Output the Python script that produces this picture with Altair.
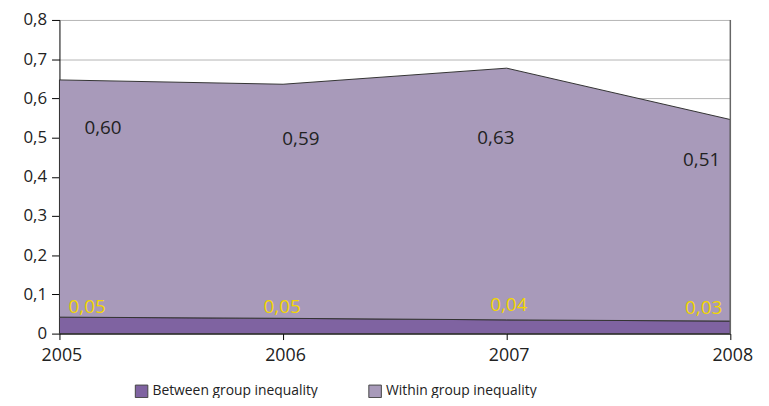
import altair as alt
import pandas as pd

# ---- data ----
years = [2005, 2006, 2007, 2008]
between = [0.042, 0.039, 0.035, 0.032]
within = [0.605, 0.597, 0.642, 0.514]
between_labels = ["0,05", "0,05", "0,04", "0,03"]
within_labels = ["0,60", "0,59", "0,63", "0,51"]
series_names = ["Between group inequality", "Within group inequality"]
y_ticks = [0, 0.1, 0.2, 0.3, 0.4, 0.5, 0.6, 0.7, 0.8]

# ---- layout / style ----
FONT = "Open Sans"
colors = ["#7f63a1", "#a89aba"]
# label offsets (pixels) from each label's data anchor
within_dx = [44, 18, -11, -29]
within_dy = [49, 55, 71, 41]
between_dx = [28, -1, 2, -27]
between_dy = [-10, -11, -15, -13]

rows = []
for i, yr in enumerate(years):
    rows.append({"year": yr, "series": series_names[0], "value": between[i], "ord": 0})
    rows.append({"year": yr, "series": series_names[1], "value": within[i], "ord": 1})
df = pd.DataFrame(rows)

x_scale = alt.Scale(domain=[years[0], years[-1]], nice=False, zero=False)
y_scale = alt.Scale(domain=[0, 0.8], nice=False)

x_axis = alt.Axis(values=years, format="d", title=None, grid=False,
                  domainColor="#000000", tickColor="#000000", tickSize=6,
                  labelFont=FONT, labelFontSize=18, labelColor="#222222",
                  labelPadding=7, labelOffset=2, labelFlush=False,
                  labelOverlap=False)
y_axis = alt.Axis(values=y_ticks, title=None, grid=True, gridColor="#b4b4b4",
                  gridWidth=1, domainColor="#000000", tickColor="#000000",
                  tickSize=8, labelPadding=5, labelFont=FONT, labelFontSize=17,
                  labelColor="#222222", labelOverlap=False,
                  labelExpr="datum.value == 0 ? '0' : replace(format(datum.value, '.1f'), '.', ',')")

area = alt.Chart(df).mark_area(stroke="#333333", strokeWidth=1, opacity=1).encode(
    x=alt.X("year:Q", scale=x_scale, axis=x_axis),
    y=alt.Y("value:Q", stack="zero", scale=y_scale, axis=y_axis),
    color=alt.Color("series:N",
                    scale=alt.Scale(domain=series_names, range=colors),
                    legend=alt.Legend(title=None, orient="none", legendX=76, legendY=368,
                                      direction="horizontal", columns=2, columnPadding=48,
                                      symbolType="square", symbolSize=160,
                                      symbolStrokeColor="#444444", symbolStrokeWidth=1,
                                      labelFont=FONT, labelFontSize=14, labelLimit=400,
                                      labelColor="#222222", symbolOpacity=1)),
    order=alt.Order("ord:Q"),
)

border = alt.Chart(pd.DataFrame({"x": [years[-1]], "y0": [0.0], "y1": [0.8]})).mark_rule(
    color="#666666", strokeWidth=1.5).encode(
    x=alt.X("x:Q", scale=x_scale, axis=x_axis),
    y=alt.Y("y0:Q", scale=y_scale, axis=y_axis), y2="y1:Q",
)

layers = [area, border]
for i, yr in enumerate(years):
    top = between[i] + within[i]
    d1 = pd.DataFrame({"year": [yr], "v": [top], "t": [within_labels[i]]})
    layers.append(alt.Chart(d1).mark_text(
        font=FONT, fontSize=19, color="#222222", align="center", baseline="middle",
        dx=within_dx[i], dy=within_dy[i]).encode(
        x=alt.X("year:Q", scale=x_scale, axis=x_axis),
        y=alt.Y("v:Q", scale=y_scale, axis=y_axis), text="t:N"))
    d2 = pd.DataFrame({"year": [yr], "v": [between[i]], "t": [between_labels[i]]})
    layers.append(alt.Chart(d2).mark_text(
        font=FONT, fontSize=19, color="#f2d600", align="center", baseline="middle",
        dx=between_dx[i], dy=between_dy[i]).encode(
        x=alt.X("year:Q", scale=x_scale, axis=x_axis),
        y=alt.Y("v:Q", scale=y_scale, axis=y_axis), text="t:N"))

chart = alt.layer(*layers).properties(
    width=678, height=317,
    autosize=alt.AutoSizeParams(type="none"),
    padding={"left": 52, "top": 10, "right": 31, "bottom": 63},
    background="#ffffff",
).configure_view(stroke=None)

chart.save("out.html", embed_options={"renderer": "svg", "actions": False})
